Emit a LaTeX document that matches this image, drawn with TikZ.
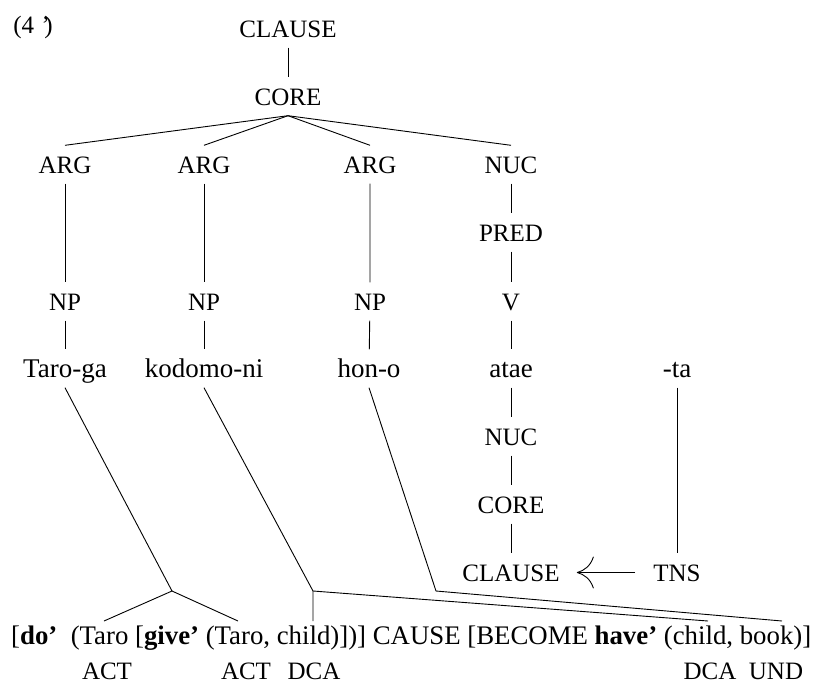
\documentclass[tikz,border=0pt]{standalone}
\usepackage{fontspec}
\setmainfont{Liberation Serif}
\usetikzlibrary{arrows.meta}

\begin{document}
\begin{tikzpicture}[x=1pt,y=-1pt,
  cat/.style={font=\fontsize{25}{30}\selectfont, anchor=base,
              text height=17pt, text depth=0pt, inner ysep=10.5pt, inner xsep=3pt},
  word/.style={cat, font=\fontsize{27}{32}\selectfont},
  edge/.style={line width=0.9pt},
  ]
\useasboundingbox (0,0) rectangle (819,683);

% example number
\node[cat] (num) at (33,33) {(4\hspace{0.3em}’\kern-0.22em)};

% syntactic tree
\node[cat] (clauseA) at (288,37) {CLAUSE};
\node[cat] (coreA) at (288,105) {CORE};
\node[cat] (argA) at (65,173) {ARG};
\node[cat] (argB) at (204,173) {ARG};
\node[cat] (argC) at (370,173) {ARG};
\node[cat] (nucA) at (511,173) {NUC};
\node[cat] (pred) at (511,241) {PRED};
\node[cat] (npA) at (65,310) {NP};
\node[cat] (npB) at (204,310) {NP};
\node[cat] (npC) at (370,310) {NP};
\node[cat] (verb) at (511,310) {V};
\node[word] (taro) at (65,377) {Taro-ga};
\node[word] (kodomo) at (204,377) {kodomo-ni};
\node[word] (hon) at (369,377) {hon-o};
\node[word] (atae) at (511,377) {atae};
\node[word] (ta) at (677,377) {-ta};
\node[cat] (nucB) at (511,445) {NUC};
\node[cat] (coreB) at (511,513) {CORE};
\node[cat] (clauseB) at (511,581) {CLAUSE};
\node[cat] (tns) at (677,581) {TNS};

\draw[edge] (clauseA) -- (coreA);
\foreach \n in {argA,argB,argC,nucA}
  \draw[edge] (coreA.south) -- (\n.north);
\draw[edge] (argA) -- (npA) -- (taro);
\draw[edge] (argB) -- (npB) -- (kodomo);
\draw[edge] (argC) -- (npC) -- (hon);
\draw[edge] (nucA) -- (pred) -- (verb) -- (atae) -- (nucB) -- (coreB) -- (clauseB);
\draw[edge] (ta) -- (tns);
\draw[edge, -{To[length=17pt,width=32pt]}, shorten <=15pt, shorten >=14pt] (tns.west) -- (clauseB.east);

% logical structure
\node[word, font=\fontsize{26.8}{32}\selectfont, anchor=base west, inner sep=0pt] (ls) at (11,644)
  {[\textbf{do’}\hspace{0.5em}(Taro [\textbf{give’} (Taro, child)])] CAUSE [BECOME \textbf{have’} (child, book)]};

\node[cat] (actA) at (107,679) {ACT};
\node[cat] (actB) at (246,679) {ACT};
\node[cat] (dcaA) at (314,679) {DCA};
\node[cat] (dcaB) at (710,679) {DCA};
\node[cat] (und) at (776,679) {UND};

% linking lines
\coordinate (jA) at (172,591);
\coordinate (jB) at (313,591);
\coordinate (jC) at (436,591);
\coordinate (taroA) at (104,621);
\coordinate (taroB) at (238,621);
\coordinate (childA) at (313,621);
\coordinate (childB) at (708,621);
\coordinate (book) at (782,621);

\draw[edge] (taro.south) -- (jA) -- (taroA);
\draw[edge] (jA) -- (taroB);
\draw[edge] (kodomo.south) -- (jB) -- (childA);
\draw[edge] (jB) -- (childB);
\draw[edge] (hon.south) -- (jC) -- (book);
\end{tikzpicture}
\end{document}
